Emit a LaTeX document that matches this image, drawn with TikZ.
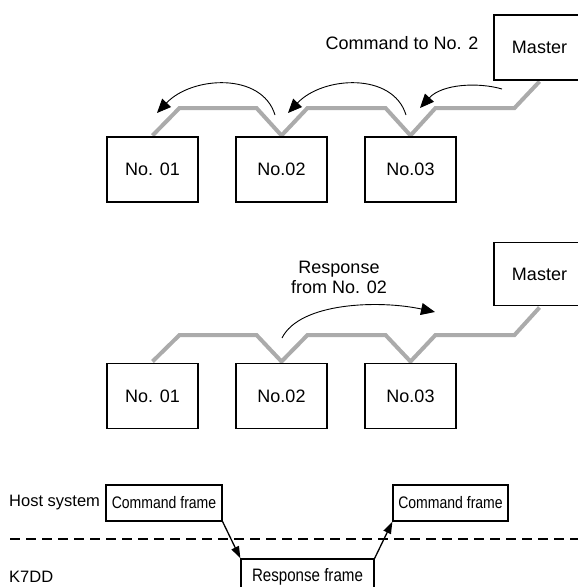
\documentclass[tikz,border=0pt]{standalone}
\usepackage{fontspec}
\setmainfont{Liberation Sans}
\newfontfamily\condfont[FakeStretch=0.84]{Liberation Sans}
\usetikzlibrary{arrows.meta,calc}
\begin{document}
\begin{tikzpicture}[x=1pt,y=-1pt,
  box/.style={draw, line width=1.2pt, fill=white, minimum width=91pt, minimum height=65pt, inner sep=0pt, font=\fontsize{18}{20}\selectfont},
  lbl/.style={inner sep=0pt, font=\fontsize{18}{20}\selectfont, align=center},
  bus/.style={draw=black!33, line width=4pt, line join=miter},
  flow/.style={line width=0.9pt, -{Triangle[length=14pt,width=12pt]}},
  framebox/.style={draw, line width=1.2pt, fill=white, inner sep=0pt, minimum height=36pt},
  side/.style={inner sep=0pt, anchor=west, font=\fontsize{16.5}{18}\selectfont},
  link/.style={line width=1.3pt, -{Triangle[length=12pt,width=8pt]}},
]
\useasboundingbox (0,0) rectangle (578,587);

% ---------- top diagram ----------
\coordinate (ta1) at (152.5,137);
\coordinate (ta2) at (281.5,137);
\coordinate (ta3) at (410.5,137);
\coordinate (tam) at (539.5,80);
\draw[bus] ($(ta1)+(0,-1.5)$) -- ++(27,-27.5) -- ($(ta2)+(-25,-29)$) -- ($(ta2)+(0,-1.5)$)
  -- ++(26,-27.5) -- ($(ta3)+(-25,-29)$) -- ($(ta3)+(0,-1.5)$) -- ++(25,-27.5)
  -- ($(tam)+(-25,28)$) -- ($(tam)+(0,1.5)$);
\node[box] (a1) at (152.5,169.5) {No. 01};
\node[box] (a2) at (281.5,169.5) {No.02};
\node[box] (a3) at (410.5,169.5) {No.03};
\node[box] (am) at (539.5,47.5) {Master};
\node[lbl] (cmd) at (402,43) {Command to No. 2};

\coordinate (s1) at (275,115); \coordinate (e1) at (157,113);
\coordinate (s2) at (406,115); \coordinate (e2) at (288,113);
\coordinate (s3) at (502,89);  \coordinate (e3) at (420,108);
\draw[flow] (s1) .. controls (262,72) and (192,76) .. (e1);
\draw[flow] (s2) .. controls (393,72) and (323,76) .. (e2);
\draw[flow] (s3) .. controls (478,82) and (442,84) .. (e3);

% ---------- middle diagram ----------
\coordinate (mb1) at (152.5,363);
\coordinate (mb2) at (281.5,363);
\coordinate (mb3) at (410.5,363);
\coordinate (mbm) at (539.5,306);
\draw[bus] ($(mb1)+(0,-1.5)$) -- ++(27,-26.5) -- ($(mb2)+(-25,-28)$) -- ($(mb2)+(0,-1.5)$)
  -- ++(26,-26.5) -- ($(mb3)+(-25,-28)$) -- ($(mb3)+(0,-1.5)$) -- ++(25,-26.5)
  -- ($(mbm)+(-25,29)$) -- ($(mbm)+(0,1.5)$);
\node[box] (b1) at (152.5,396) {No. 01};
\node[box] (b2) at (281.5,396) {No.02};
\node[box] (b3) at (410.5,396) {No.03};
\node[box, minimum height=63pt] (bm) at (539.5,274) {Master};
\node[lbl] (resp) at (339,277) {Response\\from No. 02};
\coordinate (s4) at (282,338); \coordinate (e4) at (435,312);
\draw[flow] (s4) .. controls (300,302) and (380,300) .. (e4);

% ---------- bottom diagram ----------
\node[side] (host) at (9,503) {Host system};
\node[side] (k7dd) at (9,577) {K7DD};
\node[framebox, minimum width=116pt, font=\condfont\fontsize{16.7}{18}\selectfont] (c1) at (164,503) {Command frame};
\node[framebox, minimum width=115pt, font=\condfont\fontsize{16.7}{18}\selectfont] (c2) at (450.5,503) {Command frame};
\node[framebox, minimum width=133pt, font=\condfont\fontsize{18}{20}\selectfont] (r) at (307.5,577) {Response frame};
\coordinate (dl) at (10,539);
\coordinate (dr) at (578,539);
\draw[line width=1.4pt, dash pattern=on 10pt off 6pt] (dl) -- (dr);
\draw[link] (c1.south east) -- (r.north west);
\draw[link] (r.north east) -- (c2.south west);
\end{tikzpicture}
\end{document}
